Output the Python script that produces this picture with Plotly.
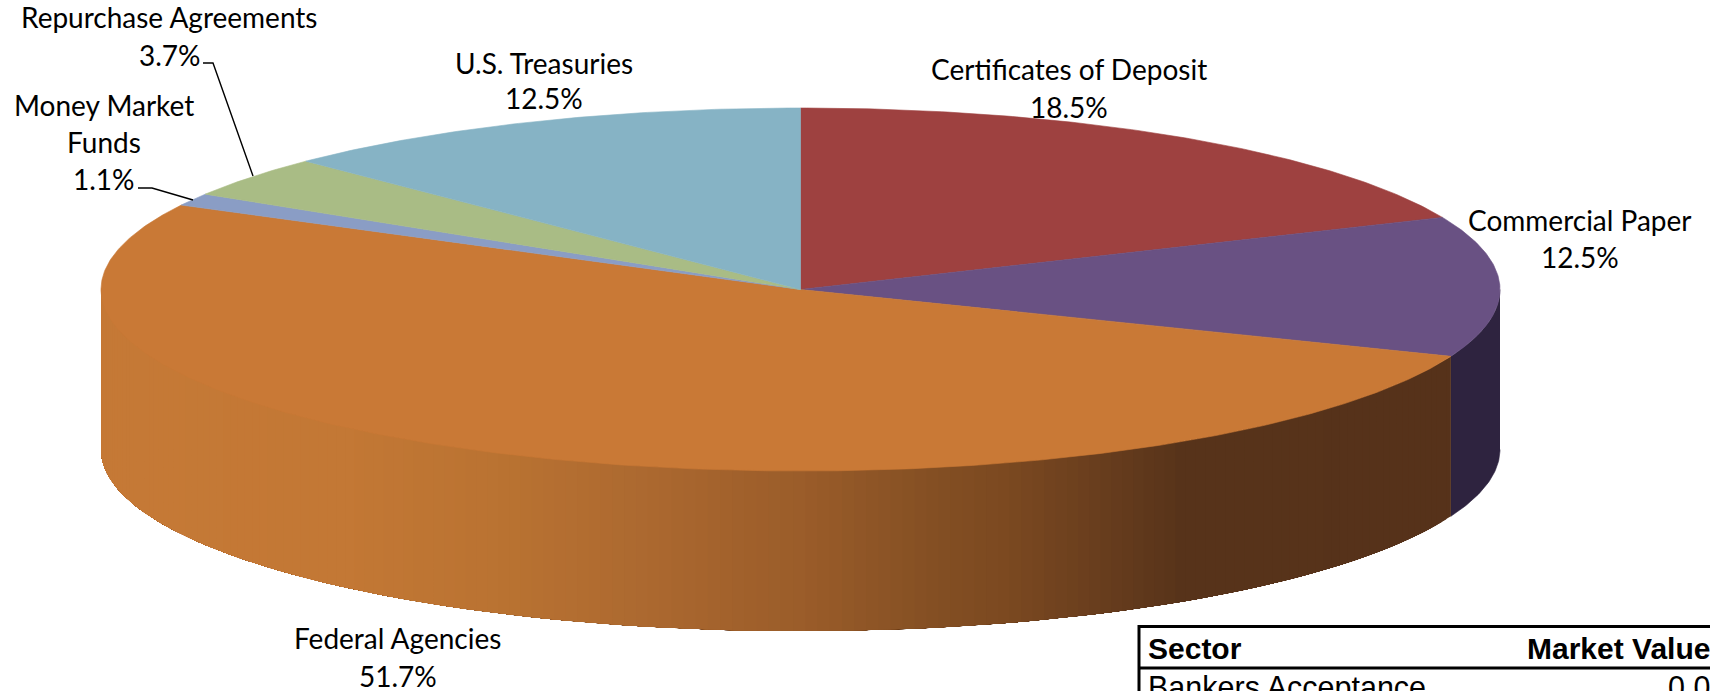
import numpy as np
import plotly.graph_objects as go

# ---- data ----
CATEGORIES = ["Certificates of Deposit", "Commercial Paper", "Federal Agencies",
              "Money Market Funds", "Repurchase Agreements", "U.S. Treasuries"]
SHARES = [18.5, 12.5, 51.7, 1.1, 3.7, 12.5]
TOP_COLORS = ["#9E4140", "#695183", "#C97936", "#8A9DC5", "#A9BC85", "#86B3C5"]
TABLE_HEADER = ["Sector", "Market Value"]
TABLE_ROW = ["Bankers Acceptance", "0.00"]

# ---- geometry / style ----
W, H = 1710, 691
CX, CY, RX, RY, DEPTH = 800.5, 289.5, 699.5, 181.5, 160
FONT = "Lato"
FS = 28
LABEL_LINES = [
    ("Repurchase Agreements", 169, 16.5), ("3.7%", 170, 55),
    ("Money Market", 103.5, 105), ("Funds", 103.5, 142), ("1.1%", 104, 179),
    ("U.S. Treasuries", 544, 63), ("12.5%", 544, 98),
    ("Certificates of Deposit", 1069, 69), ("18.5%", 1069, 107),
    ("Commercial Paper", 1580, 220), ("12.5%", 1580, 257),
    ("Federal Agencies", 397, 638), ("51.7%", 398, 676),
]
LEADERS = [([203, 213, 253], [63, 63, 176]), ([138, 152, 193], [188, 188, 200])]
SIDE_X = [101, 350, 500, 650, 800, 950, 1000, 1100, 1180, 1460]
SIDE_RGB = [(198, 122, 55), (195, 120, 53), (186, 115, 50), (172, 105, 48), (155, 93, 42),
            (130, 78, 35), (125, 74, 33), (105, 62, 30), (88, 52, 26), (86, 50, 26)]
CP_SIDE = "#2E233F"


def ex(t):
    return CX + RX * np.sin(np.radians(t))


def ey(t, dy=0.0):
    return CY - RY * np.cos(np.radians(t)) + dy


def add_poly(fig, xs, ys, color, lw=0.6):
    fig.add_trace(go.Scatter(x=xs, y=ys, mode="lines", fill="toself", fillcolor=color,
                             line=dict(color=color, width=lw), hoverinfo="skip",
                             showlegend=False))


fig = go.Figure()
edges = np.concatenate([[0.0], np.cumsum(SHARES)]) / sum(SHARES) * 360.0

# visible outer wall: commercial-paper part, then federal-agencies part with shading
t = np.linspace(90, edges[2], 40)
add_poly(fig, list(ex(t)) + list(ex(t[::-1])), list(ey(t)) + list(ey(t[::-1], DEPTH)), CP_SIDE)

# Painter's order: each band reaches all the way to the left edge, so no seams appear
for a in np.arange(edges[2], 270.0, 1.0):
    seg = np.linspace(a, 270.0, max(3, int((270.0 - a) / 2) + 2))
    xm = ex(a + 0.5)
    rgb = [np.interp(xm, SIDE_X, [c[i] for c in SIDE_RGB]) for i in range(3)]
    col = "rgb(%d,%d,%d)" % tuple(rgb)
    add_poly(fig, list(ex(seg)) + list(ex(seg[::-1])),
             list(ey(seg)) + list(ey(seg[::-1], DEPTH)), col, lw=0)

# top face
for i, col in enumerate(TOP_COLORS):
    t = np.linspace(edges[i], edges[i + 1], max(4, int((edges[i + 1] - edges[i]) * 2)))
    add_poly(fig, [CX] + list(ex(t)) + [CX], [CY] + list(ey(t)) + [CY], col)

# leaders
for lx, ly in LEADERS:
    fig.add_trace(go.Scatter(x=lx, y=ly, mode="lines", line=dict(color="#000000", width=1.4),
                             hoverinfo="skip", showlegend=False))

# labels
for txt, x, y in LABEL_LINES:
    fig.add_annotation(x=x, y=y, text=txt, showarrow=False, xanchor="center", yanchor="middle",
                       font=dict(family=FONT, size=FS, color="#000000"))

# table fragment
for x0, y0, x1, y1 in [(1139, 626.5, 1712, 626.5), (1139, 668, 1712, 668), (1139, 625, 1139, 693)]:
    fig.add_shape(type="line", x0=x0, y0=y0, x1=x1, y1=y1, line=dict(color="#000000", width=3))
TFONT = "Liberation Sans"
fig.add_annotation(x=1146, y=648, text="<b>%s</b>" % TABLE_HEADER[0], showarrow=False, xanchor="left",
                   yanchor="middle", font=dict(family=TFONT, size=30, color="#000000"))
fig.add_annotation(x=1525, y=648, text="<b>%s</b>" % TABLE_HEADER[1], showarrow=False, xanchor="left",
                   yanchor="middle", font=dict(family=TFONT, size=30, color="#000000"))
fig.add_annotation(x=1146, y=687, text=TABLE_ROW[0], showarrow=False, xanchor="left",
                   yanchor="middle", font=dict(family=TFONT, size=30.5, color="#000000"))
fig.add_annotation(x=1666, y=687, text=TABLE_ROW[1], showarrow=False, xanchor="left",
                   yanchor="middle", font=dict(family=TFONT, size=30.5, color="#000000"))

fig.update_layout(
    width=W, height=H, margin=dict(l=0, r=0, t=0, b=0), autosize=False,
    paper_bgcolor="#FFFFFF", plot_bgcolor="#FFFFFF", showlegend=False,
    xaxis=dict(range=[0, W], visible=False, fixedrange=True),
    yaxis=dict(range=[H, 0], visible=False, fixedrange=True),
)
fig.write_html("out.html", config=dict(displayModeBar=False),
               post_script="document.body.style.margin='0';document.body.style.overflow='hidden';")
